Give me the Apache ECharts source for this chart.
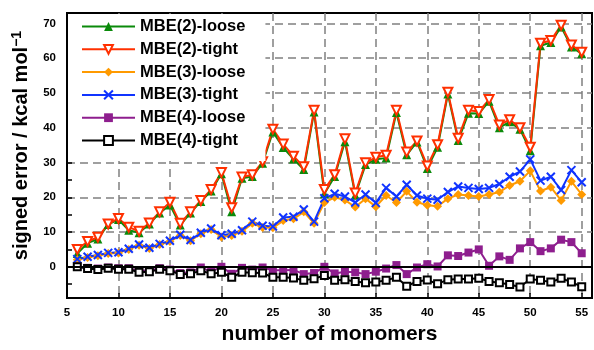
<!DOCTYPE html>
<html>
<head>
<meta charset="utf-8">
<script src="https://cdn.jsdelivr.net/npm/echarts@6/dist/echarts.min.js"></script>
<style>
html,body{margin:0;padding:0;background:#fff;}
#chart{width:594px;height:350px;}
</style>
</head>
<body>
<div id="chart"></div>
<script>
var monomers = [6,7,8,9,10,11,12,13,14,15,16,17,18,19,20,21,22,23,24,25,26,27,28,29,30,31,32,33,34,35,36,37,38,39,40,41,42,43,44,45,46,47,48,49,50,51,52,53,54,55];

var mbe2Loose = [3.8,6.8,8.0,12.2,13.6,10.5,9.8,12.3,15.5,17.8,12.0,15.5,18.8,21.8,26.8,15.8,25.5,26.0,29.8,38.8,34.3,31.0,28.0,44.5,21.0,26.0,36.0,20.6,29.4,30.9,31.3,44.4,32.2,35.9,28.3,34.4,49.7,36.3,44.2,44.1,47.6,40.0,41.7,39.6,33.4,63.6,64.5,69.0,63.2,61.3];
var mbe2Tight = [5.0,7.3,8.5,12.3,13.9,11.4,10.2,12.6,15.8,18.6,12.5,15.8,19.1,22.2,27.1,17.0,25.8,26.5,30.2,39.6,35.3,31.8,28.8,45.0,22.2,26.5,36.8,21.2,29.9,31.5,32.1,45.0,33.0,36.2,29.0,35.1,50.2,37.0,45.0,44.7,48.1,40.8,42.3,40.0,34.4,64.3,65.1,69.5,63.8,61.7];
var mbe3Loose = [2.0,2.7,3.2,3.8,4.0,5.0,6.2,5.3,6.4,7.3,9.0,7.5,9.5,10.7,8.6,9.0,10.2,12.5,11.3,11.2,13.3,13.8,15.8,12.5,18.5,20.0,19.2,17.2,19.6,17.3,20.5,18.5,21.7,18.6,17.7,17.4,19.6,20.8,20.5,20.2,20.8,21.5,23.4,24.6,27.6,21.8,22.9,19.1,24.6,20.8];
var mbe3Tight = [2.2,2.9,3.4,4.0,4.2,5.2,6.4,5.5,6.6,7.5,9.2,7.7,9.8,11.0,9.1,9.5,10.5,13.0,11.8,11.6,14.2,14.4,16.5,13.0,19.7,21.0,20.2,18.5,20.8,18.4,22.7,20.2,23.6,20.5,19.6,19.3,21.5,23.1,22.7,22.4,22.7,23.8,25.9,27.4,30.9,24.8,25.9,22.1,27.8,24.3];
var mbe4Loose = [0.1,-0.3,-0.5,-0.2,-0.4,-0.4,-1.2,-1.0,-0.4,-0.8,-1.8,-1.6,-0.2,-1.4,0.0,-2.0,-0.3,-0.8,-0.2,-1.0,-1.0,-0.9,-2.1,-1.8,0.0,-1.9,-1.4,-1.6,-2.1,-1.4,-0.5,0.5,-2.1,-0.2,0.75,0.1,3.3,3.1,4.1,5.0,0.3,3.0,2.0,5.3,7.1,4.5,5.3,7.8,7.1,3.9];
var mbe4Tight = [0.0,-0.5,-0.8,-0.4,-0.7,-0.7,-1.6,-1.4,-0.7,-1.1,-2.2,-2.0,-1.1,-2.0,-1.6,-3.0,-1.6,-1.7,-1.8,-3.0,-3.0,-3.2,-3.9,-3.4,-2.5,-3.9,-3.7,-4.2,-4.6,-4.4,-3.9,-3.0,-5.6,-4.2,-3.8,-4.9,-3.7,-3.5,-3.5,-3.3,-4.2,-4.6,-5.1,-5.8,-3.5,-3.9,-4.4,-3.3,-4.4,-5.7];

var seriesNames = ['MBE(2)-loose','MBE(2)-tight','MBE(3)-loose','MBE(3)-tight','MBE(4)-loose','MBE(4)-tight'];
var xTitle = 'number of monomers';
var yTitle = 'signed error / kcal mol{sup|\u22121}';

function pairs(vals){ return monomers.map(function(m,i){ return [m, vals[i]]; }); }

var FONT = '"Liberation Sans", Arial, Helvetica, sans-serif';
var tri = 'path://M5,0 L10,9 L0,9 Z';
var triDown = 'path://M0,0 L10,0 L5,9 Z';
var cross = 'path://M0,0 L10,10 M0,10 L10,0';
var diamond = 'path://M5,0 L10,5 L5,10 L0,5 Z';

function mk(name, vals, color, symbol, size, fill, bw, extra){
  var s = {
    name: name, type: 'line', data: pairs(vals),
    symbol: symbol, symbolSize: size, showAllSymbol: true,
    lineStyle: {color: color, width: 2},
    itemStyle: {color: fill, borderColor: color, borderWidth: bw},
    emphasis: {disabled: true},
    animation: false
  };
  if (extra) for (var k in extra) s[k] = extra[k];
  return s;
}

var chart = echarts.init(document.getElementById('chart'), null, {renderer: 'canvas'});
chart.setOption({
  backgroundColor: '#fff',
  animation: false,
  grid: {left: 67, right: 2, top: 13, bottom: 47, show: true, borderColor: '#000', borderWidth: 2, backgroundColor: 'transparent'},
  legend: {
    orient: 'vertical', left: 68, top: 14,
    padding: [4, 20, 12, 13],
    backgroundColor: '#fff',
    itemWidth: 53, itemHeight: 11, itemGap: 5.8,
    textStyle: {fontFamily: FONT, fontWeight: 'bold', fontSize: 16.5, color: '#000'},
    data: seriesNames
  },
  xAxis: {
    type: 'value', min: 5, max: 56, interval: 5,
    name: xTitle, nameLocation: 'middle', nameGap: 21,
    nameTextStyle: {fontFamily: FONT, fontWeight: 'bold', fontSize: 21, color: '#000'},
    axisLine: {show: true, onZero: false, lineStyle: {color: '#000', width: 2}},
    axisTick: {show: true, inside: true, length: 5, lineStyle: {color: '#000', width: 1.5}},
    axisLabel: {showMaxLabel: false, margin: 9, fontFamily: FONT, fontWeight: 'bold', fontSize: 11.5, color: '#000'},
    splitLine: {show: true, showMinLine: false, showMaxLine: false, lineStyle: {color: '#808080', width: 1.5, type: [8, 5]}}
  },
  yAxis: {
    type: 'value', min: -9, max: 73, splitNumber: 8,
    name: yTitle, nameLocation: 'middle', nameGap: 34, nameRotate: 90,
    nameTextStyle: {fontFamily: FONT, fontWeight: 'bold', fontSize: 20, color: '#000', padding: [0, 0, 0, 20],
      rich: {sup: {fontFamily: FONT, fontWeight: 'bold', fontSize: 14, verticalAlign: 'top', padding: [0,0,9,0], color: '#000'}}},
    axisLine: {show: true, onZero: false, lineStyle: {color: '#000', width: 2}},
    axisTick: {show: true, inside: true, length: 5, lineStyle: {color: '#000', width: 1.5}},
    minorTick: {show: true, splitNumber: 2, length: 5, lineStyle: {color: '#000', width: 1.5}},
    axisLabel: {showMinLabel: false, showMaxLabel: false, margin: 11, fontFamily: FONT, fontWeight: 'bold', fontSize: 11.5, color: '#000'},
    splitLine: {show: true, showMinLine: false, showMaxLine: false, lineStyle: {color: '#808080', width: 1.5, type: [8, 5]}}
  },
  series: [
    mk(seriesNames[0], mbe2Loose, '#0a8a0a', tri, 9, '#0a8a0a', 0, {
      markLine: {silent: true, symbol: 'none', animation: false, label: {show: false},
        lineStyle: {color: '#000', width: 2, type: 'solid'}, data: [{yAxis: 0}]}
    }),
    mk(seriesNames[1], mbe2Tight, '#ff3000', triDown, 9, '#ffffff', 2),
    mk(seriesNames[2], mbe3Loose, '#ff9a00', diamond, 9, '#ff9a00', 0),
    mk(seriesNames[3], mbe3Tight, '#1034ff', cross, 8, '#1034ff', 2),
    mk(seriesNames[4], mbe4Loose, '#8e1e8e', 'rect', 8, '#8e1e8e', 0),
    mk(seriesNames[5], mbe4Tight, '#000000', 'rect', 7, '#ffffff', 2)
  ]
});
</script>
</body>
</html>
